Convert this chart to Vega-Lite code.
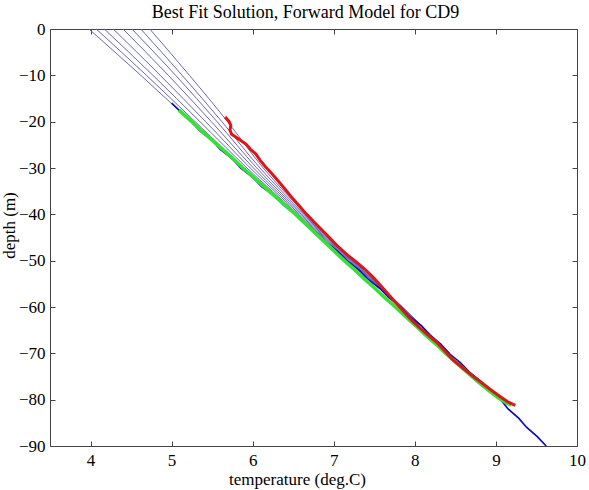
{
  "$schema": "https://vega.github.io/schema/vega-lite/v6.json",
  "width": 527,
  "height": 417,
  "autosize": "none",
  "padding": {"left": 50, "top": 29, "right": 12, "bottom": 44},
  "background": "white",
  "title": {
    "text": "Best Fit Solution, Forward Model for CD9",
    "font": "Liberation Serif",
    "fontSize": 18,
    "fontWeight": "normal",
    "color": "#000000",
    "anchor": "middle",
    "offset": -2,
    "dx": -8
  },
  "config": {
    "view": {"stroke": null},
    "axis": {
      "grid": false,
      "domainColor": "#444444",
      "domainWidth": 1,
      "tickColor": "#444444",
      "tickSize": -5,
      "labelFont": "Liberation Serif",
      "labelFontSize": 17,
      "labelColor": "#000000",
      "titleFont": "Liberation Serif",
      "titleFontSize": 17,
      "titleFontWeight": "normal",
      "titleColor": "#000000"
    }
  },
  "datasets": {
    "sweep": [
      {"run": "r1", "temp": 3.98, "depth": 0}, {"run": "r1", "temp": 4.62, "depth": -10}, {"run": "r1", "temp": 5.24, "depth": -20}, {"run": "r1", "temp": 5.86, "depth": -30}, {"run": "r1", "temp": 6.52, "depth": -40}, {"run": "r1", "temp": 7.17, "depth": -50}, {"run": "r1", "temp": 7.82, "depth": -60}, {"run": "r1", "temp": 8.43, "depth": -70},
      {"run": "r2", "temp": 4.07, "depth": 0}, {"run": "r2", "temp": 4.69, "depth": -10}, {"run": "r2", "temp": 5.29, "depth": -20}, {"run": "r2", "temp": 5.89, "depth": -30}, {"run": "r2", "temp": 6.54, "depth": -40}, {"run": "r2", "temp": 7.18, "depth": -50}, {"run": "r2", "temp": 7.82, "depth": -60}, {"run": "r2", "temp": 8.43, "depth": -70},
      {"run": "r3", "temp": 4.17, "depth": 0}, {"run": "r3", "temp": 4.77, "depth": -10}, {"run": "r3", "temp": 5.35, "depth": -20}, {"run": "r3", "temp": 5.93, "depth": -30}, {"run": "r3", "temp": 6.56, "depth": -40}, {"run": "r3", "temp": 7.19, "depth": -50}, {"run": "r3", "temp": 7.83, "depth": -60}, {"run": "r3", "temp": 8.43, "depth": -70},
      {"run": "r4", "temp": 4.28, "depth": 0}, {"run": "r4", "temp": 4.86, "depth": -10}, {"run": "r4", "temp": 5.42, "depth": -20}, {"run": "r4", "temp": 5.97, "depth": -30}, {"run": "r4", "temp": 6.58, "depth": -40}, {"run": "r4", "temp": 7.20, "depth": -50}, {"run": "r4", "temp": 7.83, "depth": -60}, {"run": "r4", "temp": 8.43, "depth": -70},
      {"run": "r5", "temp": 4.40, "depth": 0}, {"run": "r5", "temp": 4.96, "depth": -10}, {"run": "r5", "temp": 5.49, "depth": -20}, {"run": "r5", "temp": 6.01, "depth": -30}, {"run": "r5", "temp": 6.60, "depth": -40}, {"run": "r5", "temp": 7.21, "depth": -50}, {"run": "r5", "temp": 7.83, "depth": -60}, {"run": "r5", "temp": 8.43, "depth": -70},
      {"run": "r6", "temp": 4.51, "depth": 0}, {"run": "r6", "temp": 5.05, "depth": -10}, {"run": "r6", "temp": 5.56, "depth": -20}, {"run": "r6", "temp": 6.05, "depth": -30}, {"run": "r6", "temp": 6.62, "depth": -40}, {"run": "r6", "temp": 7.22, "depth": -50}, {"run": "r6", "temp": 7.84, "depth": -60}, {"run": "r6", "temp": 8.43, "depth": -70},
      {"run": "r7", "temp": 4.62, "depth": 0}, {"run": "r7", "temp": 5.13, "depth": -10}, {"run": "r7", "temp": 5.62, "depth": -20}, {"run": "r7", "temp": 6.09, "depth": -30}, {"run": "r7", "temp": 6.64, "depth": -40}, {"run": "r7", "temp": 7.23, "depth": -50}, {"run": "r7", "temp": 7.84, "depth": -60}, {"run": "r7", "temp": 8.43, "depth": -70},
      {"run": "r8", "temp": 4.73, "depth": 0}, {"run": "r8", "temp": 5.22, "depth": -10}, {"run": "r8", "temp": 5.69, "depth": -20}, {"run": "r8", "temp": 6.13, "depth": -30}, {"run": "r8", "temp": 6.66, "depth": -40}, {"run": "r8", "temp": 7.24, "depth": -50}, {"run": "r8", "temp": 7.85, "depth": -60}, {"run": "r8", "temp": 8.43, "depth": -70}
    ],
    "base": [
      {"temp": 5.00, "depth": -16}, {"temp": 5.12, "depth": -18}, {"temp": 5.25, "depth": -20},
      {"temp": 5.35, "depth": -22}, {"temp": 5.50, "depth": -24}, {"temp": 5.60, "depth": -26}, {"temp": 5.75, "depth": -28},
      {"temp": 5.85, "depth": -30}, {"temp": 6.00, "depth": -32}, {"temp": 6.11, "depth": -34}, {"temp": 6.27, "depth": -36},
      {"temp": 6.38, "depth": -38}, {"temp": 6.53, "depth": -40}, {"temp": 6.64, "depth": -42}, {"temp": 6.79, "depth": -44},
      {"temp": 6.90, "depth": -46}, {"temp": 7.05, "depth": -48}, {"temp": 7.16, "depth": -50}, {"temp": 7.31, "depth": -52},
      {"temp": 7.42, "depth": -54}, {"temp": 7.57, "depth": -56}, {"temp": 7.68, "depth": -58}, {"temp": 7.83, "depth": -60},
      {"temp": 7.93, "depth": -62}, {"temp": 8.08, "depth": -64}, {"temp": 8.18, "depth": -66}, {"temp": 8.32, "depth": -68},
      {"temp": 8.42, "depth": -70}, {"temp": 8.56, "depth": -72}, {"temp": 8.67, "depth": -74}, {"temp": 8.81, "depth": -76},
      {"temp": 8.92, "depth": -78}, {"temp": 9.06, "depth": -80}, {"temp": 9.15, "depth": -82}, {"temp": 9.28, "depth": -84},
      {"temp": 9.38, "depth": -86}, {"temp": 9.51, "depth": -88}, {"temp": 9.62, "depth": -90}
    ],
    "fit": [
      {"temp": 5.09, "depth": -17.5}, {"temp": 5.25, "depth": -20}, {"temp": 5.37, "depth": -22}, {"temp": 5.50, "depth": -24},
      {"temp": 5.63, "depth": -26}, {"temp": 5.76, "depth": -28}, {"temp": 5.88, "depth": -30}, {"temp": 6.01, "depth": -32},
      {"temp": 6.14, "depth": -34}, {"temp": 6.27, "depth": -36}, {"temp": 6.40, "depth": -38}, {"temp": 6.53, "depth": -40},
      {"temp": 6.65, "depth": -42}, {"temp": 6.77, "depth": -44}, {"temp": 6.89, "depth": -46}, {"temp": 7.01, "depth": -48},
      {"temp": 7.13, "depth": -50}, {"temp": 7.26, "depth": -52}, {"temp": 7.38, "depth": -54}, {"temp": 7.51, "depth": -56},
      {"temp": 7.63, "depth": -58}, {"temp": 7.76, "depth": -60}, {"temp": 7.88, "depth": -62}, {"temp": 8.01, "depth": -64},
      {"temp": 8.13, "depth": -66}, {"temp": 8.26, "depth": -68}, {"temp": 8.38, "depth": -70}, {"temp": 8.51, "depth": -72},
      {"temp": 8.64, "depth": -74}, {"temp": 8.77, "depth": -76}, {"temp": 8.91, "depth": -78}, {"temp": 9.02, "depth": -79.5},
      {"temp": 9.11, "depth": -80.5}, {"temp": 9.19, "depth": -81.2}
    ],
    "measured": [
      {"temp": 5.66, "depth": -19.0}, {"temp": 5.71, "depth": -20.0}, {"temp": 5.73, "depth": -20.8}, {"temp": 5.72, "depth": -21.8},
      {"temp": 5.74, "depth": -22.7}, {"temp": 5.80, "depth": -23.4}, {"temp": 5.92, "depth": -24.9}, {"temp": 5.97, "depth": -25.9},
      {"temp": 6.04, "depth": -27.0}, {"temp": 6.09, "depth": -28.3}, {"temp": 6.16, "depth": -29.8}, {"temp": 6.24, "depth": -31.3},
      {"temp": 6.32, "depth": -32.9}, {"temp": 6.40, "depth": -34.6}, {"temp": 6.48, "depth": -36.3}, {"temp": 6.57, "depth": -38.1},
      {"temp": 6.66, "depth": -39.9}, {"temp": 6.76, "depth": -41.7}, {"temp": 6.86, "depth": -43.5}, {"temp": 6.96, "depth": -45.3},
      {"temp": 7.06, "depth": -47.1}, {"temp": 7.17, "depth": -48.8}, {"temp": 7.28, "depth": -50.3}, {"temp": 7.38, "depth": -51.8},
      {"temp": 7.48, "depth": -53.5}, {"temp": 7.58, "depth": -55.4}, {"temp": 7.67, "depth": -57.2}, {"temp": 7.76, "depth": -59.0},
      {"temp": 7.86, "depth": -60.9}, {"temp": 7.97, "depth": -63.0}, {"temp": 8.08, "depth": -64.8}, {"temp": 8.17, "depth": -66.2},
      {"temp": 8.27, "depth": -67.6}, {"temp": 8.37, "depth": -69.5}, {"temp": 8.47, "depth": -71.4}, {"temp": 8.58, "depth": -73.0},
      {"temp": 8.70, "depth": -74.7}, {"temp": 8.82, "depth": -76.3}, {"temp": 8.94, "depth": -77.9}, {"temp": 9.05, "depth": -79.3},
      {"temp": 9.14, "depth": -80.4}, {"temp": 9.21, "depth": -81.0}, {"temp": 9.24, "depth": -81.2}
    ]
  },
  "layer": [
    {
      "data": {"name": "sweep"},
      "mark": {"type": "line", "color": "#6868bc", "strokeWidth": 1, "interpolate": "monotone"},
      "encoding": {
        "x": {"field": "temp", "type": "quantitative",
              "scale": {"domain": [3.5, 10], "nice": false, "zero": false},
              "axis": {"orient": "bottom", "values": [4, 5, 6, 7, 8, 9, 10], "labelFlush": false,
                       "labelPadding": 11, "title": "temperature (deg.C)",
                       "titleX": 247, "titleY": 33, "titleBaseline": "middle"}},
        "y": {"field": "depth", "type": "quantitative",
              "scale": {"domain": [-90, 0], "nice": false, "zero": false},
              "axis": {"orient": "left", "values": [-90, -80, -70, -60, -50, -40, -30, -20, -10, 0],
                       "labelPadding": 10, "labelFlush": false, "title": "depth (m)",
                       "titleX": -41, "titleY": 196, "titleAngle": -90, "titleBaseline": "middle"}},
        "detail": {"field": "run"},
        "order": {"field": "depth", "sort": "descending"}
      }
    },
    {
      "data": {"name": "base"},
      "mark": {"type": "line", "color": "#0c0cc8", "strokeWidth": 1.7},
      "encoding": {
        "x": {"field": "temp", "type": "quantitative",
              "axis": {"orient": "top", "values": [4, 5, 6, 7, 8, 9, 10], "labels": false, "title": null}},
        "y": {"field": "depth", "type": "quantitative",
              "axis": {"orient": "right", "values": [-90, -80, -70, -60, -50, -40, -30, -20, -10, 0], "labels": false, "title": null}},
        "order": {"field": "depth", "sort": "descending"}
      }
    },
    {
      "data": {"name": "fit"},
      "mark": {"type": "line", "color": "#36e036", "strokeWidth": 3.6},
      "encoding": {
        "x": {"field": "temp", "type": "quantitative", "axis": null},
        "y": {"field": "depth", "type": "quantitative", "axis": null},
        "order": {"field": "depth", "sort": "descending"}
      }
    },
    {
      "data": {"name": "measured"},
      "mark": {"type": "line", "color": "#e01414", "strokeWidth": 3},
      "encoding": {
        "x": {"field": "temp", "type": "quantitative", "axis": null},
        "y": {"field": "depth", "type": "quantitative", "axis": null},
        "order": {"field": "depth", "sort": "descending"}
      }
    }
  ],
  "resolve": {"axis": {"x": "independent", "y": "independent"}}
}
